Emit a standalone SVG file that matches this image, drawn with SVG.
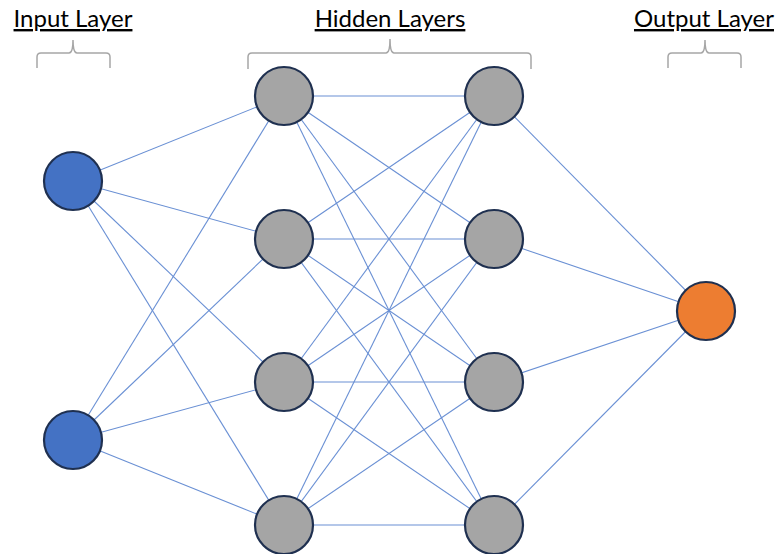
<svg xmlns="http://www.w3.org/2000/svg" width="778" height="554" viewBox="0 0 778 554">
<style>
.lbl{font-family:Lato,"Open Sans","Liberation Sans",sans-serif;font-size:24px;fill:#000;text-anchor:middle;text-decoration:underline}
.brace{fill:none;stroke:#A6A6A6;stroke-width:1.5}
.edge{stroke:#6A90D4;stroke-width:1.1}
.n{stroke:#1F3050;stroke-width:2.2}
.in{fill:#4472C4}
.hid{fill:#A5A5A5}
.out{fill:#ED7D31}
</style>
<rect width="778" height="554" fill="#fff"/>
<g id="labels">
<text class="lbl" x="73" y="27">Input Layer</text>
<text class="lbl" x="390" y="27">Hidden Layers</text>
<text class="lbl" x="704" y="27">Output Layer</text>
</g>
<g id="braces">
<path class="brace" d="M37,68 V57 Q37,53 41,53 H69 Q73,53 73,40 Q73,53 77,53 H106 Q110,53 110,57 V68"/>
<path class="brace" d="M248,69 V57 Q248,53 252,53 H386 Q390,53 390,39 Q390,53 394,53 H527 Q531,53 531,57 V69"/>
<path class="brace" d="M668,68 V57 Q668,53 672,53 H701 Q705,53 705,40 Q705,53 709,53 H737 Q741,53 741,57 V68"/>
</g>
<g id="connectors">
<line class="edge" x1="73" y1="181" x2="284" y2="96"/>
<line class="edge" x1="73" y1="181" x2="284" y2="239"/>
<line class="edge" x1="73" y1="181" x2="284" y2="382"/>
<line class="edge" x1="73" y1="181" x2="284" y2="525"/>
<line class="edge" x1="73" y1="440" x2="284" y2="96"/>
<line class="edge" x1="73" y1="440" x2="284" y2="239"/>
<line class="edge" x1="73" y1="440" x2="284" y2="382"/>
<line class="edge" x1="73" y1="440" x2="284" y2="525"/>
<line class="edge" x1="284" y1="96" x2="494" y2="96"/>
<line class="edge" x1="284" y1="96" x2="494" y2="239"/>
<line class="edge" x1="284" y1="96" x2="494" y2="382"/>
<line class="edge" x1="284" y1="96" x2="494" y2="525"/>
<line class="edge" x1="284" y1="239" x2="494" y2="96"/>
<line class="edge" x1="284" y1="239" x2="494" y2="239"/>
<line class="edge" x1="284" y1="239" x2="494" y2="382"/>
<line class="edge" x1="284" y1="239" x2="494" y2="525"/>
<line class="edge" x1="284" y1="382" x2="494" y2="96"/>
<line class="edge" x1="284" y1="382" x2="494" y2="239"/>
<line class="edge" x1="284" y1="382" x2="494" y2="382"/>
<line class="edge" x1="284" y1="382" x2="494" y2="525"/>
<line class="edge" x1="284" y1="525" x2="494" y2="96"/>
<line class="edge" x1="284" y1="525" x2="494" y2="239"/>
<line class="edge" x1="284" y1="525" x2="494" y2="382"/>
<line class="edge" x1="284" y1="525" x2="494" y2="525"/>
<line class="edge" x1="494" y1="96" x2="706" y2="311"/>
<line class="edge" x1="494" y1="239" x2="706" y2="311"/>
<line class="edge" x1="494" y1="382" x2="706" y2="311"/>
<line class="edge" x1="494" y1="525" x2="706" y2="311"/>
</g>
<g id="in1"><circle class="n in" cx="73" cy="181" r="29"/></g>
<g id="in2"><circle class="n in" cx="73" cy="440" r="29"/></g>
<g id="h1a"><circle class="n hid" cx="284" cy="96" r="29"/></g>
<g id="h1b"><circle class="n hid" cx="284" cy="239" r="29"/></g>
<g id="h1c"><circle class="n hid" cx="284" cy="382" r="29"/></g>
<g id="h1d"><circle class="n hid" cx="284" cy="525" r="29"/></g>
<g id="h2a"><circle class="n hid" cx="494" cy="96" r="29"/></g>
<g id="h2b"><circle class="n hid" cx="494" cy="239" r="29"/></g>
<g id="h2c"><circle class="n hid" cx="494" cy="382" r="29"/></g>
<g id="h2d"><circle class="n hid" cx="494" cy="525" r="29"/></g>
<g id="out"><circle class="n out" cx="706" cy="311" r="29"/></g>
</svg>
